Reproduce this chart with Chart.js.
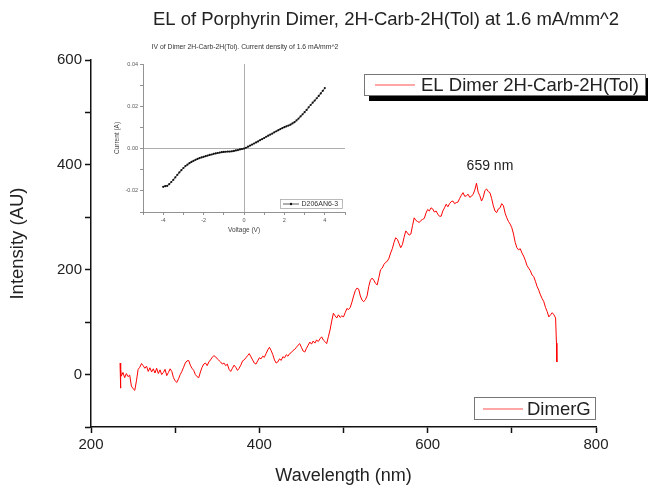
<!DOCTYPE html>
<html>
<head>
<meta charset="utf-8">
<script src="https://cdn.jsdelivr.net/npm/chart.js@4.4.1/dist/chart.umd.min.js"></script>
<style>
  body { margin: 0; background: #fff; }
  #wrap { position: relative; width: 648px; height: 485px; }
  #main { position: absolute; left: 0; top: 0; }
  #inset { position: absolute; left: 105px; top: 38px; }
</style>
</head>
<body>
<div id="wrap">
  <canvas id="main" width="648" height="485"></canvas>
  <canvas id="inset" width="250" height="200"></canvas>
</div>
<script>
// main spectrum (EL)
var chartTitle = 'EL of Porphyrin Dimer, 2H-Carb-2H(Tol) at 1.6 mA/mm^2';
var seriesName = 'EL Dimer 2H-Carb-2H(Tol)';
var secondName = 'DimerG';
var peakLabel = '659 nm';
var peakLabelAt = [674, 398];

var wavelengthNm = [234.5, 235, 235.5, 236, 238, 240, 242, 244, 246, 248, 250, 252, 254, 256, 258, 260, 262, 264, 266, 268,
  270, 272, 274, 276, 278, 280, 282, 284, 286, 288, 290, 292, 294, 296, 298, 300, 302, 304, 306, 308,
  310, 312, 314, 316, 318, 320, 322, 324, 326, 328, 330, 332, 334, 336, 338, 340, 342, 344, 346, 348,
  350, 352, 354, 356, 358, 360, 362, 364, 366, 368, 370, 372, 374, 376, 378, 380, 382, 384, 386, 388,
  390, 392, 394, 396, 398, 400, 402, 404, 406, 408, 410, 412, 414, 416, 418, 420, 422, 424, 426, 428,
  430, 432, 434, 436, 438, 440, 442, 444, 446, 448, 450, 452, 454, 456, 458, 460, 462, 464, 466, 468,
  470, 472, 474, 476, 478, 480, 482, 484, 486, 488, 490, 492, 494, 496, 498, 500, 502, 504, 506, 508,
  510, 512, 514, 516, 518, 520, 522, 524, 526, 528, 530, 532, 534, 536, 538, 540, 542, 544, 546, 548,
  550, 552, 554, 556, 558, 560, 562, 564, 566, 568, 570, 572, 574, 576, 578, 580, 582, 584, 586, 588,
  590, 592, 594, 596, 598, 600, 602, 604, 606, 608, 610, 612, 614, 616, 618, 620, 622, 624, 626, 628,
  630, 632, 634, 636, 638, 640, 642, 644, 646, 648, 650, 652, 654, 656, 658, 660, 662, 664, 666, 668,
  670, 672, 674, 676, 678, 680, 682, 684, 686, 688, 690, 692, 694, 696, 698, 700, 702, 704, 706, 708,
  710, 712, 714, 716, 718, 720, 722, 724, 726, 728, 730, 732, 734, 736, 738, 740, 742, 744, 746, 748,
  750, 752, 753, 753.5];
var intensityAu = [22, -26, 10, -3, 4, -6, 2, -4, -1, -22, -27, -30, -12, 10, 14, 21, 17, 12, 16, 6,
  13, 5, 11, 3, 12, 2, 9, 0, 4, 10, -2, 4, 11, 6, -6, -12, -15, -8, 0, 6,
  14, 22, 26, 27, 18, 12, 8, 0, -4, -6, 5, 14, 20, 22, 17, 24, 28, 33, 36, 34,
  30, 27, 24, 20, 22, 17, 20, 10, 6, 12, 18, 14, 8, 12, 18, 26, 28, 32, 36, 40,
  34, 28, 22, 20, 26, 32, 30, 35, 33, 40, 47, 52, 46, 38, 28, 22, 24, 30, 27, 34,
  32, 38, 35, 40, 42, 46, 48, 52, 56, 59, 52, 45, 43, 50, 56, 62, 58, 64, 60, 66,
  63, 68, 72, 66, 63, 59, 72, 85, 102, 117, 112, 108, 114, 109, 112, 110, 118, 126, 124, 128,
  138, 150, 160, 165, 163, 150, 142, 139, 143, 150, 168, 180, 184, 180, 174, 171, 185, 200, 203, 210,
  214, 216, 222, 232, 240, 252, 261, 258, 250, 242, 248, 262, 274, 270, 266, 268, 284, 299, 294, 292,
  290, 294, 296, 298, 308, 315, 312, 318, 316, 310, 312, 306, 302, 302, 312, 318, 325, 320, 326, 330,
  331, 326, 328, 329, 336, 342, 347, 340, 341, 344, 338, 340, 344, 352, 365, 348, 341, 331, 338, 351,
  354, 349, 347, 336, 322, 312, 309, 316, 318, 326, 322, 308, 299, 292, 287, 280, 268, 252, 242, 238,
  240, 232, 226, 218, 208, 203, 198, 190, 187, 178, 168, 161, 152, 145, 139, 128, 120, 110, 114, 118,
  114, 108, 60, 24];

// inset I-V curve
var insetTitle = 'IV of Dimer 2H-Carb-2H(Tol). Current density of 1.6 mA/mm^2';
var insetName = 'D206AN6-3';
var voltageV = [-4.0, -3.9, -3.8, -3.7, -3.6, -3.5, -3.4, -3.3, -3.2, -3.1, -3.0, -2.9, -2.8, -2.7, -2.6, -2.5, -2.4, -2.3, -2.2, -2.1,
  -2.0, -1.9, -1.8, -1.7, -1.6, -1.5, -1.4, -1.3, -1.2, -1.1, -1.0, -0.9, -0.8, -0.7, -0.6, -0.5, -0.4, -0.3, -0.2, -0.1,
  0.0, 0.1, 0.2, 0.3, 0.4, 0.5, 0.6, 0.7, 0.8, 0.9, 1.0, 1.1, 1.2, 1.3, 1.4, 1.5, 1.6, 1.7, 1.8, 1.9,
  2.0, 2.1, 2.2, 2.3, 2.4, 2.5, 2.6, 2.7, 2.8, 2.9, 3.0, 3.1, 3.2, 3.3, 3.4, 3.5, 3.6, 3.7, 3.8, 3.9, 4.0];
var currentA = [-0.0181, -0.0178, -0.0176, -0.0168, -0.0158, -0.0148, -0.0136, -0.0124, -0.0113, -0.0102, -0.0092, -0.0083, -0.0076, -0.0069, -0.0063, -0.0058, -0.0053, -0.0049, -0.0045, -0.0042,
  -0.0039, -0.0036, -0.0033, -0.0030, -0.0028, -0.0025, -0.0023, -0.0021, -0.0019, -0.0017, -0.0016, -0.0015, -0.0014, -0.0014, -0.0013, -0.0011, -0.0009, -0.0007, -0.0004, -0.0002,
  0.0000, 0.0004, 0.0009, 0.0014, 0.0019, 0.0024, 0.0029, 0.0034, 0.0040, 0.0045, 0.0050, 0.0056, 0.0061, 0.0066, 0.0071, 0.0077, 0.0082, 0.0087, 0.0092, 0.0097,
  0.0101, 0.0105, 0.0109, 0.0113, 0.0119, 0.0125, 0.0133, 0.0142, 0.0152, 0.0162, 0.0172, 0.0183, 0.0195, 0.0206, 0.0217, 0.0227, 0.0238, 0.0249, 0.0261, 0.0273, 0.0286];

var FONT = '"Liberation Sans", Arial, sans-serif';

var mainDecor = {
  id: 'mainDecor',
  afterDraw: function (chart) {
    var c = chart.ctx, xs = chart.scales.x, ys = chart.scales.y;
    c.save();
    c.fillStyle = '#222';
    c.textBaseline = 'middle';
    c.textAlign = 'center';
    c.font = '18.5px ' + FONT;
    c.fillText(chartTitle, 386, 20);
    c.font = '14px ' + FONT;
    c.fillText(peakLabel, xs.getPixelForValue(peakLabelAt[0]), ys.getPixelForValue(peakLabelAt[1]));

    // legend 1, with drop shadow
    c.fillStyle = '#000';
    c.fillRect(369, 78, 282, 23);
    c.fillStyle = '#fff';
    c.fillRect(364, 74, 282, 22);
    c.strokeStyle = '#777';
    c.lineWidth = 1;
    c.strokeRect(364.5, 74.5, 281, 21);
    c.strokeStyle = '#ff8a8a';
    c.lineWidth = 1.5;
    c.beginPath(); c.moveTo(375, 85); c.lineTo(415, 85); c.stroke();
    c.fillStyle = '#222';
    c.textAlign = 'left';
    c.font = '18.5px ' + FONT;
    c.fillText(seriesName, 421, 86);

    // legend 2
    c.fillStyle = '#fff';
    c.fillRect(474, 397, 122, 23);
    c.strokeStyle = '#777';
    c.lineWidth = 1;
    c.strokeRect(474.5, 397.5, 121, 22);
    c.strokeStyle = '#ff8a8a';
    c.lineWidth = 1.5;
    c.beginPath(); c.moveTo(483, 409); c.lineTo(523, 409); c.stroke();
    c.fillStyle = '#222';
    c.fillText(secondName, 527, 409.5);
    c.restore();
  }
};

var mainPoints = wavelengthNm.map(function (w, i) { return { x: w, y: intensityAu[i] }; });

new Chart(document.getElementById('main').getContext('2d'), {
  type: 'line',
  data: {
    datasets: [{
      label: seriesName,
      data: mainPoints,
      borderColor: '#ff0000',
      borderWidth: 1,
      pointRadius: 0,
      tension: 0
    }]
  },
  options: {
    responsive: false,
    animation: false,
    layout: { padding: { top: 60, right: 52, left: 0, bottom: 0 } },
    plugins: { legend: { display: false }, tooltip: { enabled: false } },
    scales: {
      x: {
        type: 'linear', min: 200, max: 800,
        afterFit: function (s) { s.height = 58; },
        ticks: {
          stepSize: 100, autoSkip: false, maxRotation: 0, color: '#222', padding: 3,
          font: { family: FONT, size: 15 },
          callback: function (v) { return v % 200 === 0 ? v : ''; }
        },
        grid: { drawOnChartArea: false, tickLength: 6, tickColor: '#111', tickWidth: 1.5 },
        border: { color: '#111', width: 1.5 },
        title: { display: true, text: 'Wavelength (nm)', color: '#222', font: { family: FONT, size: 18, lineHeight: 1 }, padding: { top: 0, bottom: 0 } }
      },
      y: {
        min: -100, max: 600,
        afterFit: function (s) { s.width = 91; },
        ticks: {
          stepSize: 100, autoSkip: false, color: '#222', padding: 3,
          font: { family: FONT, size: 15 },
          callback: function (v) { return v % 200 === 0 ? v : ''; }
        },
        grid: { drawOnChartArea: false, tickLength: 6, tickColor: '#111', tickWidth: 1.5 },
        border: { color: '#111', width: 1.5 },
        title: { display: true, text: 'Intensity (AU)', color: '#222', font: { family: FONT, size: 18.5, lineHeight: 1 }, padding: { top: 9, bottom: 0 } }
      }
    }
  },
  plugins: [mainDecor]
});

var insetDecor = {
  id: 'insetDecor',
  afterDraw: function (chart) {
    var c = chart.ctx;
    c.save();
    c.fillStyle = '#333';
    c.textBaseline = 'middle';
    c.textAlign = 'center';
    c.font = '6.8px ' + FONT;
    c.fillText(insetTitle, 140, 9);
    // legend
    c.fillStyle = '#fff';
    c.fillRect(175, 161, 63, 10);
    c.strokeStyle = '#aaa';
    c.lineWidth = 0.8;
    c.strokeRect(175.5, 161.5, 62, 9);
    c.strokeStyle = '#333';
    c.lineWidth = 0.8;
    c.beginPath(); c.moveTo(178, 166); c.lineTo(194, 166); c.stroke();
    c.fillStyle = '#111';
    c.beginPath(); c.arc(186, 166, 1.2, 0, Math.PI * 2); c.fill();
    c.fillStyle = '#333';
    c.textAlign = 'left';
    c.font = '7px ' + FONT;
    c.fillText(insetName, 196.5, 166.5);
    c.restore();
  }
};

var insetPoints = voltageV.map(function (v, i) { return { x: v, y: currentA[i] }; });

function zeroLine(ctx) {
  return ctx.tick && Math.abs(ctx.tick.value) < 1e-9 ? '#999' : 'rgba(0,0,0,0)';
}

new Chart(document.getElementById('inset').getContext('2d'), {
  type: 'line',
  data: {
    datasets: [{
      label: insetName,
      data: insetPoints,
      borderColor: '#222',
      borderWidth: 0.8,
      pointRadius: 1.1,
      pointBackgroundColor: '#111',
      pointBorderWidth: 0,
      tension: 0
    }]
  },
  options: {
    responsive: false,
    animation: false,
    layout: { padding: { top: 26, right: 10, left: 0, bottom: 0 } },
    plugins: { legend: { display: false }, tooltip: { enabled: false } },
    scales: {
      x: {
        type: 'linear', min: -5, max: 5,
        afterFit: function (s) { s.height = 26; },
        ticks: {
          stepSize: 1, autoSkip: false, maxRotation: 0, color: '#555', padding: 2,
          font: { family: FONT, size: 5.5 },
          callback: function (v) { return Math.round(v) % 2 === 0 ? v : ''; }
        },
        grid: { color: zeroLine, tickLength: 3, tickColor: '#777', lineWidth: 0.8 },
        border: { color: '#777', width: 0.8 },
        title: { display: true, text: 'Voltage (V)', color: '#444', font: { family: FONT, size: 6.5 }, padding: { top: 0, bottom: 4 } }
      },
      y: {
        min: -0.03, max: 0.04,
        afterFit: function (s) { s.width = 38; },
        ticks: {
          stepSize: 0.01, autoSkip: false, color: '#555', padding: 2,
          font: { family: FONT, size: 5.5 },
          callback: function (v) { return Math.round(v * 100) % 2 === 0 ? v.toFixed(2) : ''; }
        },
        grid: { color: zeroLine, tickLength: 3, tickColor: '#777', lineWidth: 0.8 },
        border: { color: '#777', width: 0.8 },
        title: { display: true, text: 'Current (A)', color: '#444', font: { family: FONT, size: 6.5 }, padding: { top: 8, bottom: 0 } }
      }
    }
  },
  plugins: [insetDecor]
});
</script>
</body>
</html>
